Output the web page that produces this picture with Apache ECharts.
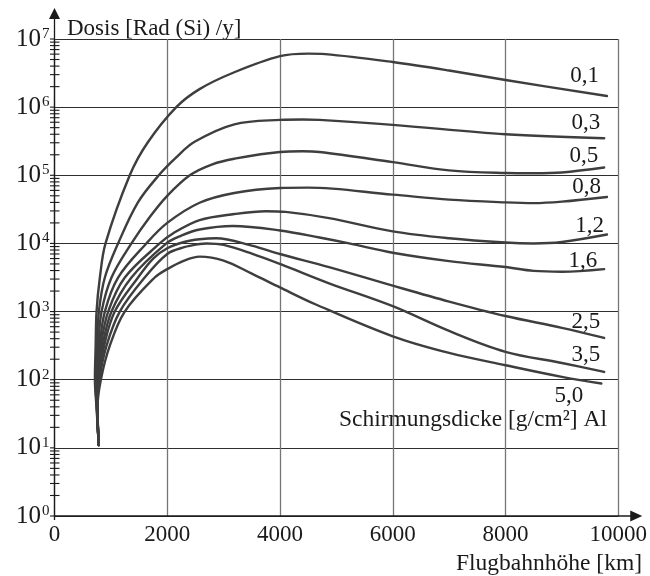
<!DOCTYPE html>
<html>
<head>
<meta charset="utf-8">
<style>
  html, body { margin: 0; padding: 0; background: #fff; }
  #chart { width: 650px; height: 576px; }
</style>
<script src="https://cdn.jsdelivr.net/npm/echarts@6/dist/echarts.min.js"></script>
</head>
<body>
<div id="chart"></div>
<script>
// Flight altitude [km] vs. annual dose [Rad (Si)/y] for several aluminium shield thicknesses
const shieldLabels = ['0,1', '0,3', '0,5', '0,8', '1,2', '1,6', '2,5', '3,5', '5,0'];

const dose01 = [[785,11],[745,40],[717,100],[730,316],[746,1000],[805,3160],[905,1e4],[1335,1e5],[1650,3.0e5],[2160,1e6],[2573,1.84e6],[3190,3.25e6],[4000,5.6e6],[4500,6.1e6],[4800,6e6],[6000,4.6e6],[7000,3.45e6],[8000,2.5e6],[9800,1.46e6]];
const dose03 = [[785,11],[750,40],[725,100],[752,316],[787,1000],[893,3160],[1128,1e4],[1480,4e4],[1850,1e5],[2150,1.8e5],[2485,3.1e5],[3190,5.6e5],[4000,6.5e5],[4400,6.6e5],[4700,6.5e5],[6000,5.5e5],[8000,4e5],[9750,3.5e5]];
const dose05 = [[785,11],[752,40],[734,100],[775,316],[835,1000],[1011,3160],[1365,1e4],[1700,2.5e4],[2000,5e4],[2400,1e5],[2800,1.45e5],[3190,1.75e5],[4000,2.2e5],[4400,2.25e5],[4700,2.2e5],[6000,1.56e5],[7000,1.18e5],[8000,1.08e5],[8500,1.07e5],[9000,1.1e5],[9750,1.3e5]];
const dose08 = [[785,11],[754,40],[743,100],[800,316],[893,1000],[1128,3160],[1630,1e4],[2000,2e4],[2573,3.95e4],[3190,5.5e4],[4000,6.5e4],[4500,6.6e4],[6000,5.2e4],[7000,4.4e4],[8000,4e4],[8500,3.9e4],[9000,4.1e4],[9800,4.8e4]];
const dose12 = [[785,11],[756,40],[752,100],[822,316],[952,1000],[1247,3160],[1866,1e4],[2100,1.4e4],[2573,2.2e4],[3190,2.7e4],[3750,2.97e4],[4100,2.9e4],[4870,2.35e4],[6000,1.5e4],[7000,1.19e4],[8000,1.03e4],[8500,1e4],[9000,1.05e4],[9800,1.35e4]];
const dose16 = [[785,11],[758,40],[760,100],[852,316],[1011,1000],[1365,3160],[1984,1e4],[2250,1.3e4],[2573,1.6e4],[3163,1.8e4],[4000,1.55e4],[4700,1.22e4],[5226,1e4],[6000,7.3e3],[7000,5.5e3],[8000,4.5e3],[8500,3.95e3],[9000,3.85e3],[9750,4.2e3]];
const dose25 = [[785,11],[760,40],[778,100],[881,316],[1069,1000],[1482,3160],[1750,6e3],[2000,8.5e3],[2300,1.05e4],[2573,1.15e4],[2868,1.19e4],[3500,9.3e3],[4000,7e3],[4870,4.5e3],[6000,2.4e3],[7000,1.4e3],[8000,860],[9000,577],[9750,410]];
const dose35 = [[785,11],[762,40],[796,100],[923,316],[1158,1000],[1600,3160],[2000,7e3],[2300,8.8e3],[2573,9.8e3],[2700,1e4],[3000,9.5e3],[3500,7.1e3],[4000,5e3],[4870,2.6e3],[6000,1.2e3],[7000,520],[8000,257],[9000,176],[9750,130]];
const dose50 = [[785,11],[764,40],[822,100],[981,316],[1246,1000],[1777,3160],[2000,4.2e3],[2300,5.6e3],[2573,6.4e3],[3000,5.6e3],[3500,3.6e3],[4000,2.26e3],[4636,1.27e3],[6000,433],[7000,247],[8000,163],[9000,110],[9700,88]];

const doseSeries = [dose01, dose03, dose05, dose08, dose12, dose16, dose25, dose35, dose50];

// where each curve's thickness label sits relative to the end of the curve
const labelOffsets = [[-8,-20],[-4,-15],[-6,-12],[-6,-10],[-3,-9],[-7,-8],[-4,-16],[-4,-17],[-18,12]];

const xTicks = { min: 0, max: 10000, interval: 2000 };
const yDecades = { min: 1, max: 1e7 };

// log-scale tick positions on the dose axis (1..9 per decade)
const yTickValues = [];
for (let e = 0; e < 7; e++) {
  for (let m = 1; m <= 9; m++) yTickValues.push([0, m * Math.pow(10, e), m === 1 ? 1 : 0]);
}
yTickValues.push([0, 1e7, 1]);

const FONT = '"Liberation Serif", "Times New Roman", serif';
const INK = '#1a1a1a';
const CURVE = '#3e3e3e';

const chart = echarts.init(document.getElementById('chart'), null, { renderer: 'canvas' });

const lineSeries = doseSeries.map((d, i) => ({
  type: 'line',
  name: shieldLabels[i],
  data: d,
  smooth: 0.35,
  showSymbol: false,
  symbol: 'none',
  clip: false,
  lineStyle: { color: CURVE, width: 2.4, cap: 'round', join: 'round' },
  endLabel: {
    show: true,
    formatter: shieldLabels[i],
    distance: 0,
    align: 'right',
    verticalAlign: 'middle',
    offset: labelOffsets[i],
    fontFamily: FONT,
    fontSize: 23,
    color: INK
  },
  z: 3
}));

// axis lines with arrowheads; they run past the plotting area
const axisArrows = {
  type: 'custom',
  data: [[0, 1]],
  clip: false,
  silent: true,
  z: 5,
  renderItem: function (params, api) {
    const cs = params.coordSys;
    const o = api.coord([0, 1]);
    const x0 = o[0], y0 = o[1];
    const right = cs.x + cs.width;
    const top = cs.y;
    const style = { stroke: INK, lineWidth: 1.3 };
    return {
      type: 'group',
      children: [
        { type: 'line', shape: { x1: x0, y1: y0 + 4, x2: x0, y2: top - 22 }, style },
        { type: 'polygon', shape: { points: [[x0, top - 31], [x0 - 5.5, top - 20], [x0 + 5.5, top - 20]] }, style: { fill: INK } },
        { type: 'line', shape: { x1: x0, y1: y0, x2: right + 14, y2: y0 }, style },
        { type: 'polygon', shape: { points: [[right + 24, y0], [right + 12, y0 - 5.5], [right + 12, y0 + 5.5]] }, style: { fill: INK } }
      ]
    };
  }
};

// decade and sub-decade tick marks on the dose axis
const yTicks = {
  type: 'custom',
  data: yTickValues,
  clip: false,
  silent: true,
  z: 5,
  renderItem: function (params, api) {
    const p = api.coord([api.value(0), api.value(1)]);
    const major = api.value(2) === 1;
    return {
      type: 'line',
      shape: { x1: p[0] - 4.5, y1: p[1], x2: p[0] + (major ? 0 : 5), y2: p[1] },
      style: { stroke: INK, lineWidth: 1.1 }
    };
  }
};

chart.setOption({
  animation: false,
  backgroundColor: '#ffffff',
  grid: { left: 54.5, right: 30, top: 39, bottom: 60, containLabel: false },
  xAxis: {
    type: 'value',
    min: xTicks.min,
    max: xTicks.max,
    interval: xTicks.interval,
    axisLine: { show: false },
    axisTick: { show: false },
    axisLabel: { fontFamily: FONT, fontSize: 23, color: INK, margin: 7, formatter: v => String(v) },
    splitLine: { show: true, lineStyle: { color: '#767676', width: 1.3 } }
  },
  yAxis: {
    type: 'log',
    logBase: 10,
    min: yDecades.min,
    max: yDecades.max,
    axisLine: { show: false },
    axisTick: { show: false },
    axisLabel: {
      margin: 5,
      formatter: function (v) {
        return '{b|10}{s|' + Math.round(Math.log10(v)) + '}';
      },
      rich: {
        b: { fontFamily: FONT, fontSize: 25, color: INK },
        s: { fontFamily: FONT, fontSize: 15, color: INK, verticalAlign: 'top', padding: [0, 0, 10, 1] }
      }
    },
    splitLine: { show: true, lineStyle: { color: '#2e2e2e', width: 1.1 } },
    minorSplitLine: { show: false },
    minorTick: { show: false }
  },
  graphic: [
    { type: 'text', left: 67, top: 17, style: { text: 'Dosis [Rad (Si) /y]', font: '23px ' + FONT, fill: INK } },
    { type: 'text', right: 43, top: 408, style: { text: 'Schirmungsdicke [g/cm²] Al', font: '23.5px ' + FONT, fill: INK } },
    { type: 'text', right: 8, top: 552, style: { text: 'Flugbahnhöhe [km]', font: '23.5px ' + FONT, fill: INK } }
  ],
  series: lineSeries.concat([axisArrows, yTicks])
});
</script>
</body>
</html>
